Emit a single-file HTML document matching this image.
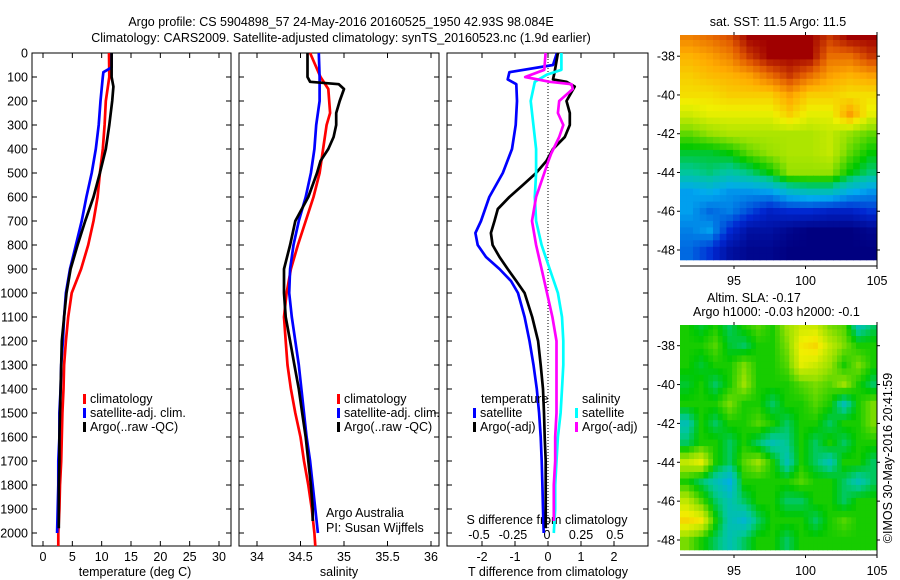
<!DOCTYPE html>
<html><head><meta charset="utf-8"><style>
html,body{margin:0;padding:0;background:#fff;}
svg{display:block;font-family:"Liberation Sans",sans-serif;}
text{font-size:12.5px;fill:#000;}
</style></head><body>
<svg id="c" width="900" height="580" viewBox="0 0 900 580" xmlns="http://www.w3.org/2000/svg">
<rect width="900" height="580" fill="#fff"/>
<text x="341" y="26" text-anchor="middle">Argo profile: CS 5904898_57 24-May-2016 20160525_1950 42.93S 98.084E</text>
<text x="341" y="42" text-anchor="middle">Climatology: CARS2009. Satellite-adjusted climatology: synTS_20160523.nc (1.9d earlier)</text>
<text x="778" y="26" text-anchor="middle">sat. SST: 11.5 Argo: 11.5</text>
<text x="707" y="302">Altim. SLA: -0.17</text>
<text x="693" y="316">Argo h1000: -0.03 h2000: -0.1</text>
<text transform="translate(892,458) rotate(-90)" text-anchor="middle">©IMOS 30-May-2016 20:41:59</text>
<text x="135" y="576" text-anchor="middle">temperature (deg C)</text>
<text x="339" y="576" text-anchor="middle">salinity</text>
<text x="548" y="576" text-anchor="middle">T difference from climatology</text>
<text x="547" y="524" text-anchor="middle">S difference from climatology</text>
<text x="326" y="517">Argo Australia</text>
<text x="326" y="532">PI: Susan Wijffels</text>
<g id="g"></g>
</svg>
<script>
// ---------- data ----------
const depthTicks=[0,100,200,300,400,500,600,700,800,900,1000,1100,1200,1300,1400,1500,1600,1700,1800,1900,2000];
const tempTicks=[0,5,10,15,20,25,30];
const salTicks=[34,34.5,35,35.5,36];
const tdiffTicks=[-2,-1,0,1,2];
const sdiffTicks=[-0.5,-0.25,0,0.25,0.5];
const sdiffLabels=["-0.5","-0.25","0","0.25","0.5"];
const lonTicks=[95,100,105];
const latTicks=[-38,-40,-42,-44,-46,-48];

const depthClimT=[0,100,200,300,400,500,600,700,800,900,1000,1100,1200,1300,1400,1500,1600,1700,1800,1900,2000,2054];
const tempClim=[11.25,11.3,10.7,10.5,10.2,9.7,9.3,8.6,7.7,6.5,4.9,4.3,3.9,3.6,3.5,3.3,3.2,3.1,2.9,2.8,2.6,2.6];
const depthSatT=[0,60,80,100,200,300,400,500,600,700,800,900,1000,1100,1200,1300,1400,1500,1600,1700,1800,1900,2000];
const tempSat=[11.7,11.7,10.3,10.2,9.8,9.5,9.0,8.3,7.4,6.6,5.6,4.6,3.9,3.6,3.4,3.1,3.0,2.8,2.8,2.6,2.6,2.5,2.4];
const depthArgo=[0,100,140,200,300,400,500,600,700,800,900,1000,1100,1200,1300,1400,1500,1600,1700,1800,1900,1980];
const tempArgo=[11.7,11.7,12.0,11.8,11.3,10.7,9.7,8.6,7.2,5.9,4.7,4.0,3.6,3.2,3.1,3.0,2.9,2.8,2.8,2.7,2.7,2.7];

const depthClimS=[0,100,150,250,300,400,500,600,700,800,900,1000,1100,1200,1300,1400,1500,1600,1700,1800,1900,2000,2054];
const salClim=[34.61,34.73,34.82,34.84,34.80,34.76,34.72,34.65,34.56,34.47,34.39,34.34,34.31,34.33,34.35,34.39,34.44,34.50,34.54,34.59,34.63,34.66,34.67];
const depthSatS=[0,100,200,300,400,500,600,700,800,900,1000,1100,1200,1300,1400,1500,1600,1700,1800,1900,2000];
const salSat=[34.71,34.72,34.72,34.68,34.66,34.62,34.56,34.48,34.42,34.38,34.37,34.40,34.44,34.48,34.51,34.54,34.57,34.61,34.64,34.67,34.70];
const depthArgoS=[0,100,120,130,150,200,250,300,350,400,450,500,600,700,800,900,1000,1100,1200,1300,1400,1500,1600,1700,1800,1900,1950];
const salArgo=[34.58,34.58,34.61,34.94,35.0,34.95,34.91,34.91,34.88,34.82,34.73,34.69,34.59,34.44,34.38,34.31,34.31,34.33,34.38,34.43,34.48,34.52,34.56,34.59,34.62,34.64,34.64];

const depthTdSat=[0,50,80,110,130,200,300,400,500,600,700,750,800,850,900,950,1000,1100,1200,1300,1400,1500,1600,1700,1800,1900,2000];
const tdiffSat=[0.27,0.15,-1.17,-1.22,-0.96,-0.94,-0.98,-1.09,-1.37,-1.78,-2.03,-2.2,-2.13,-1.88,-1.47,-1.12,-0.91,-0.71,-0.56,-0.44,-0.34,-0.27,-0.22,-0.19,-0.17,-0.15,-0.13];
const depthTdArgo=[0,80,110,120,140,200,250,300,350,400,450,500,550,600,650,700,750,800,850,900,950,1000,1100,1200,1300,1400,1500,1600,1700,1800,1900,1980];
const tdiffArgo=[0.3,0.2,0.15,0.56,0.81,0.56,0.66,0.66,0.51,0.15,-0.05,-0.36,-0.76,-1.17,-1.52,-1.62,-1.73,-1.68,-1.47,-1.22,-0.96,-0.71,-0.48,-0.3,-0.22,-0.15,-0.12,-0.1,-0.07,-0.07,-0.07,-0.07];
const depthSdSat=[0,70,90,120,200,300,400,500,600,700,800,900,1000,1100,1200,1300,1400,1500,1600,1700,1800,1900,2000];
const sdiffSat=[0.106,0.106,0,-0.09,-0.12,-0.10,-0.08,-0.08,-0.09,-0.08,-0.04,0.02,0.08,0.11,0.12,0.12,0.11,0.10,0.08,0.07,0.06,0.06,0.05];
const depthSdArgo=[0,70,100,120,130,150,200,250,300,350,420,450,500,600,700,800,900,1000,1100,1200,1300,1400,1500,1600,1700,1800,1900,1950];
const sdiffArgo=[-0.01,-0.02,-0.16,0.02,0.18,0.19,0.09,0.08,0.12,0.09,0.03,0.01,-0.02,-0.08,-0.11,-0.08,-0.04,0,0.04,0.07,0.07,0.07,0.07,0.06,0.06,0.05,0.05,0.05];

// SST map grid (deg C), rows north->south, cols west->east
const sstLats=[-37,-38,-39,-40,-41,-42,-43,-44,-45,-46,-47,-48];
const sstLons=[91.9,93.3,94.7,96.1,97.5,98.9,100.3,101.7,103.1,104.5];
const sstRows=[
[13.8,14,14.3,15,15,15,15,14.5,15,15],
[13.3,13.5,13.8,14.5,15,15,15,14,14,14.5],
[13,13.2,13.3,13.5,14,14.5,14,13.5,13.3,13.5],
[12.8,12.8,13,13,13,13.5,13,13,12.8,12.8],
[12.3,12.5,12.5,12.5,12.5,13,12.5,12.5,13.5,12.5],
[11.5,11.8,12,12,12,12,12,12.2,11.8,11.5],
[10.8,10.8,11,11.5,11.8,12,12,12.2,11.5,11],
[10.3,10.5,10.2,10.5,11,11.8,11.8,11.8,11,10.5],
[9.3,9.5,9.2,9.2,9.3,9.8,10,10,9.5,9.2],
[9.3,8.8,9,8.5,8,8.2,8.2,8,8,8.3],
[9,9.3,8.2,7.5,7.5,7.2,7,7,7,7.2],
[8.8,8.3,7.5,7.2,7.2,7,7,7,7,7]];
// SLA map grid (m)
const slaLats=[-37,-38,-39,-40,-41,-42,-43,-44,-45,-46,-47,-48];
const slaLons=[91.7,92.7,93.7,94.7,95.7,96.7,97.7,98.7,99.7,100.7,101.7,102.7,103.7,104.7];
const slaRows=[
[.05,.02,.05,0,.05,.08,.05,.12,.16,.16,.1,.08,-.05,0],
[.05,.05,.08,.02,0,.05,.05,.1,.2,.22,.15,.1,.05,.05],
[.05,.02,.05,.05,.1,.05,.05,.08,.18,.16,.12,.05,.1,.05],
[.02,.05,0,.05,.12,.05,.05,.05,.08,.1,.08,.12,.05,0],
[.05,.05,.05,.1,.05,.05,0,.05,.05,.08,.05,-.05,.05,.1],
[-.05,.05,0,.05,.05,.08,.05,0,.05,.05,0,.05,.05,.1],
[0,.05,.05,0,.05,0,-.05,-.02,.05,0,.05,0,.05,.05],
[.15,.18,.05,0,.08,.12,.05,-.05,.05,0,-.05,.05,.05,0],
[.05,0,-.05,-.1,.05,.05,.05,.05,.08,.05,.05,0,-.05,0],
[.15,.08,0,-.05,0,.05,.05,0,0,.05,.05,0,.05,.05],
[.22,.2,.05,-.05,-.08,0,.05,.05,.05,0,.05,.08,.05,.05],
[.1,.05,0,-.05,0,.05,.05,0,.05,.05,.05,.05,.05,.05]];

// ---------- drawing ----------
const NS='http://www.w3.org/2000/svg';
const G=document.getElementById('g');
function el(tag,attrs,parent){const e=document.createElementNS(NS,tag);for(const k in attrs)e.setAttribute(k,attrs[k]);(parent||G).appendChild(e);return e;}
const yTop=53,yBot=546;
function yD(d){return yTop+d*0.24;}
function lin(d0,d1,r0,r1){return v=>r0+(v-d0)*(r1-r0)/(d1-d0);}
const xT=lin(0,30,43,219);
const xS=lin(34,36,257,431);
const xTd=lin(0,2,548,614);
const xSd=lin(0,0.5,547,615);

function frame(x0,x1,name){
  const r=el('rect',{x:x0,y:yTop,width:x1-x0,height:yBot-yTop,fill:'none',stroke:'#000','stroke-width':1});
  
  
  depthTicks.forEach(d=>{
    el('line',{x1:x0,x2:x0+5,y1:yD(d),y2:yD(d),stroke:'#000'});
    el('line',{x1:x1-5,x2:x1,y1:yD(d),y2:yD(d),stroke:'#000'});
  });
}
function xticks(vals,labels,sc,yl){
  vals.forEach((v,i)=>{
    const x=sc(v);
    el('line',{x1:x,x2:x,y1:yTop,y2:yTop+5,stroke:'#000'});
    el('line',{x1:x,x2:x,y1:yBot-5,y2:yBot,stroke:'#000'});
    if(yl){const t=el('text',{x:x,y:yl,'text-anchor':'middle'});t.textContent=labels[i];
      
      }
  });
}
function line(ds,vs,sc,color,name,w){
  const pts=ds.map((d,i)=>sc(vs[i]).toFixed(1)+','+yD(d).toFixed(1)).join(' ');
  const p=el('polyline',{points:pts,fill:'none',stroke:color,'stroke-width':w||2.7,'stroke-linejoin':'round'});
  
  
}
function legend(x,y,color,label,name){
  el('rect',{x:x,y:y-9,width:3,height:10,fill:color});
  const t=el('text',{x:x+7,y:y});t.textContent=label;
  
  
}

// panel 1
frame(32,231,'temperature-panel');
xticks(tempTicks,tempTicks.map(String),xT,561);
depthTicks.forEach(d=>{const t=el('text',{x:28,y:yD(d)+4.5,'text-anchor':'end'});t.textContent=d;
  
  });
line(depthClimT,tempClim,xT,'#ff0000','temp-climatology-line');
line(depthSatT,tempSat,xT,'#0000ff','temp-satellite-line');
line(depthArgo,tempArgo,xT,'#000000','temp-argo-line');
legend(83,403,'#ff0000','climatology','legend-climatology');
legend(83,417,'#0000ff','satellite-adj. clim.','legend-satellite');
legend(83,431,'#000000','Argo(..raw -QC)','legend-argo');

// panel 2
frame(239,439,'salinity-panel');
xticks(salTicks,salTicks.map(String),xS,561);
line(depthClimS,salClim,xS,'#ff0000','sal-climatology-line');
line(depthSatS,salSat,xS,'#0000ff','sal-satellite-line');
line(depthArgoS,salArgo,xS,'#000000','sal-argo-line');
legend(337,403,'#ff0000','climatology','legend-climatology-s');
legend(337,417,'#0000ff','satellite-adj. clim.','legend-satellite-s');
legend(337,431,'#000000','Argo(..raw -QC)','legend-argo-s');

// panel 3
frame(447,648,'difference-panel');
xticks(tdiffTicks,tdiffTicks.map(String),xTd,561);
sdiffTicks.forEach((v,i)=>{const t=el('text',{x:xSd(v),y:539,'text-anchor':'middle'});t.textContent=sdiffLabels[i];
  
  });
el('line',{x1:xTd(0),x2:xTd(0),y1:yTop,y2:yD(2000),stroke:'#000','stroke-dasharray':'1,2'});
line(depthTdSat,tdiffSat,xTd,'#0000ff','tdiff-satellite-line');
line(depthTdArgo,tdiffArgo,xTd,'#000000','tdiff-argo-line');
line(depthSdSat,sdiffSat,xSd,'#00ffff','sdiff-satellite-line');
line(depthSdArgo,sdiffArgo,xSd,'#ff00ff','sdiff-argo-line');
{const t=el('text',{x:481,y:403});t.textContent='temperature';
 
 }
{const t=el('text',{x:582,y:403});t.textContent='salinity';
 
 }
legend(473,417,'#0000ff','satellite','legend-t-satellite');
legend(473,431,'#000000','Argo(-adj)','legend-t-argo');
legend(575,417,'#00ffff','satellite','legend-s-satellite');
legend(575,431,'#ff00ff','Argo(-adj)','legend-s-argo');

// maps
const cmap=[[0,0,0,128],[0.15,0,40,210],[0.3,0,170,240],[0.42,0,200,150],[0.5,0,200,0],[0.6,150,225,0],[0.7,240,240,0],[0.8,255,170,0],[0.9,225,90,0],[1,160,0,0]];
function col(t){t=Math.max(0,Math.min(1,t));
  for(let i=1;i<cmap.length;i++){if(t<=cmap[i][0]){const a=cmap[i-1],b=cmap[i],f=(t-a[0])/(b[0]-a[0]);
    return 'rgb('+[1,2,3].map(k=>Math.round(a[k]+(b[k]-a[k])*f)).join(',')+')';}}
  return 'rgb(160,0,0)';}
function map(x0,x1,y0,y1,lat38y,lat48y,lats,lons,rows,cfn,name,lonLabelY){
  const xL=lin(95,105,734,877), yL=lin(-38,-48,lat38y,lat48y);
  const clip=el('clipPath',{id:name+'-clip'});el('rect',{x:x0,y:y0,width:x1-x0,height:y1-y0},clip);
  const g=el('g',{'clip-path':'url(#'+name+'-clip)'});
  
  
  const dLon=lons[1]-lons[0], dLat=1, S=3;
  const nr=rows.length, nc=rows[0].length;
  const val=(fi,fj)=>{fi=Math.max(0,Math.min(nr-1,fi));fj=Math.max(0,Math.min(nc-1,fj));
    const i0=Math.floor(fi),j0=Math.floor(fj),i1=Math.min(nr-1,i0+1),j1=Math.min(nc-1,j0+1),a=fi-i0,b=fj-j0;
    return rows[i0][j0]*(1-a)*(1-b)+rows[i1][j0]*a*(1-b)+rows[i0][j1]*(1-a)*b+rows[i1][j1]*a*b;};
  for(let i=0;i<nr;i++)for(let j=0;j<nc;j++)for(let si=0;si<S;si++)for(let sj=0;sj<S;sj++){
    const fi=i+(si+0.5)/S-0.5, fj=j+(sj+0.5)/S-0.5;
    const v=val(fi,fj);
    const xa=xL(lons[j]-dLon/2+sj*dLon/S), xb=xa+(xL(dLon)-xL(0))/S;
    const ya=yL(lats[i]+dLat/2-si*dLat/S), yb=ya+(yL(-dLat)-yL(0))/S;
    const r=el('rect',{x:xa.toFixed(1),y:ya.toFixed(1),width:(xb-xa+0.6).toFixed(1),height:(yb-ya+0.6).toFixed(1),fill:cfn(v)},g);
    
    
  }
  el('line',{x1:x1,x2:x1,y1:y0,y2:y1,stroke:'#000'});
  el('line',{x1:x0,x2:x1,y1:y1,y2:y1,stroke:'#000'});
  lonTicks.forEach(v=>{const x=xL(v);
    el('line',{x1:x,x2:x,y1:y0-3,y2:y0,stroke:'#000'});
    el('line',{x1:x,x2:x,y1:y1,y2:y1+3,stroke:'#000'});
    const t=el('text',{x:x,y:lonLabelY,'text-anchor':'middle'});t.textContent=v;
    
    });
  latTicks.forEach(v=>{const y=yL(v);
    el('line',{x1:x0-3,x2:x0,y1:y,y2:y,stroke:'#000'});
    el('line',{x1:x1,x2:x1+3,y1:y,y2:y,stroke:'#000'});
    const t=el('text',{x:x0-5,y:y+4.5,'text-anchor':'end'});t.textContent=v;
    
    });
}
map(680,877,35,266,56.2,250,sstLats,sstLons,sstRows,v=>col((v-7)/8),'sst-map',285);
map(680,877,325,555,345.7,540,slaLats,slaLons,slaRows,v=>col(0.45+v*1.3),'sla-map',575);
</script>
</body></html>
